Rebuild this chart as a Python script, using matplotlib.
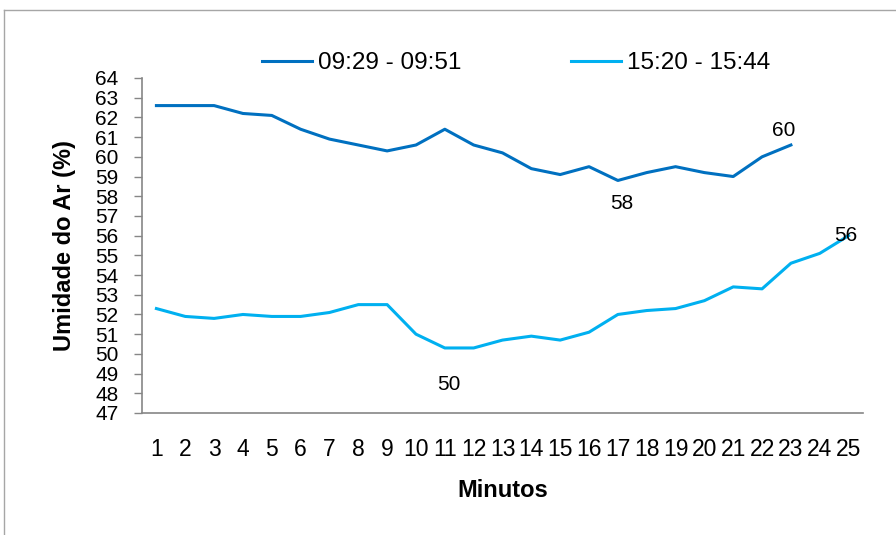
import matplotlib
matplotlib.use("Agg")
import matplotlib.pyplot as plt
from matplotlib.lines import Line2D

plt.rcParams['font.family'] = ['Liberation Sans', 'DejaVu Sans']

# minutes on the x axis
minutos = list(range(1, 26))

# humidity readings
manha = [62.6, 62.6, 62.6, 62.2, 62.1, 61.4, 60.9, 60.6, 60.3, 60.6, 61.4, 60.6,
         60.2, 59.4, 59.1, 59.5, 58.8, 59.2, 59.5, 59.2, 59.0, 60.0, 60.6]
tarde = [52.3, 51.9, 51.8, 52.0, 51.9, 51.9, 52.1, 52.5, 52.5, 51.0, 50.3, 50.3,
         50.7, 50.9, 50.7, 51.1, 52.0, 52.2, 52.3, 52.7, 53.4, 53.3, 54.6, 55.1, 56.0]
nomes = ['09:29 - 09:51', '15:20 - 15:44']

# data labels: (series, minute, text, offset in pixels)
rotulos = [(0, 17, '58', (4, -23)),
           (0, 23, '60', (-7, 14)),
           (1, 11, '50', (4, -37)),
           (1, 25, '56', (-3, 0))]

cor1 = '#0070C0'
cor2 = '#00B0F0'
cinza = '#868686'

fig = plt.figure(figsize=(8.96, 5.35), dpi=100)
ax = fig.add_axes([142/896, 1 - 413/535, (863-142)/896, (413-78)/535])

ax.plot(minutos[:len(manha)], manha, color=cor1, lw=2.2, label=nomes[0])
ax.plot(minutos[:len(tarde)], tarde, color=cor2, lw=2.2, label=nomes[1])

series = [manha, tarde]
for s, m, txt, off in rotulos:
    ax.annotate(txt, xy=(m, series[s][m-1]), xytext=off, textcoords='offset pixels',
                ha='center', va='center', fontsize=15, color='black')

ax.set_xlim(0.5, 25.5)
ax.set_ylim(47, 64)
ax.set_xticks(minutos)
ax.set_xticklabels([str(m) for m in minutos])
ax.set_yticks(range(47, 65))

for sp in ['top', 'right']:
    ax.spines[sp].set_visible(False)
for sp in ['left', 'bottom']:
    ax.spines[sp].set_color(cinza)
    ax.spines[sp].set_linewidth(1.2)

ax.tick_params(axis='x', length=0, pad=18, labelsize=16.5)
ax.tick_params(axis='y', length=6, width=1, color=cinza, pad=11, labelsize=15)

ax.set_ylabel('Umidade do Ar (%)', fontsize=17, fontweight='bold')
ax.yaxis.set_label_coords((76-142)/721, 0.5)
ax.set_xlabel('Minutos', fontsize=17, fontweight='bold')
ax.xaxis.set_label_coords(0.5, (413-479)/335)

fig.legend(loc='center', bbox_to_anchor=(516/896, 1 - 63/535), ncol=2, frameon=False,
           fontsize=17.5, handlelength=2.06, handletextpad=0.25, columnspacing=4.5)

# chart border (only left and top visible in the crop)
bx = 4/896
by = 1 - 10/535
fig.add_artist(Line2D([bx, bx], [0, by], transform=fig.transFigure, color='#a6a6a6', lw=1))
fig.add_artist(Line2D([bx, 1], [by, by], transform=fig.transFigure, color='#a6a6a6', lw=1))

fig.savefig('out.png', dpi=100)
